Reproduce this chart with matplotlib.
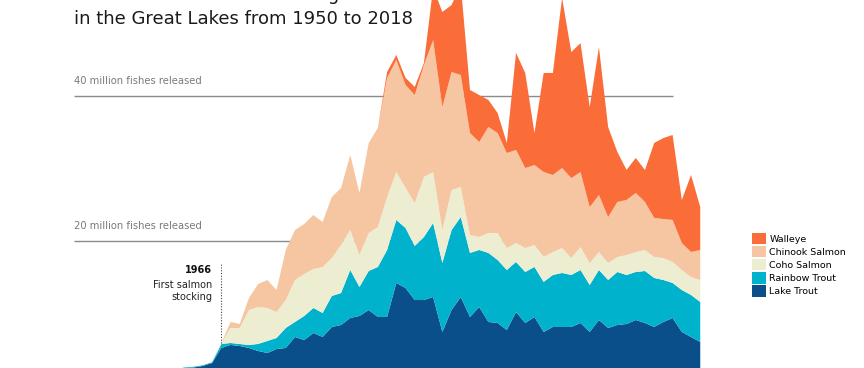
import matplotlib
matplotlib.use("Agg")
import matplotlib.pyplot as plt
from matplotlib.patches import Patch

# data (millions of fish released per year)
years = list(range(1950, 2019))

lake_trout = [0.3, 0.4, 0.5, 0.6, 0.8, 1.0, 1.2, 1.3, 1.5, 1.8,
              2.0, 2.2, 2.45, 2.55, 2.76, 3.17, 5.24, 5.66, 5.52, 5.24,
              4.83, 4.55, 5.10, 5.24, 6.76, 6.34, 7.31, 6.76, 8.14, 8.41,
              9.38, 9.66, 10.48, 9.52, 9.52, 14.21, 13.52, 11.86, 11.86, 12.28,
              7.45, 10.48, 12.28, 9.52, 10.90, 8.83, 8.69, 7.72, 10.21, 8.69,
              9.52, 7.45, 8.14, 8.14, 8.14, 8.69, 7.45, 9.10, 8.00, 8.41,
              8.55, 9.10, 8.69, 8.14, 8.83, 9.38, 7.45, 6.76, 6.07]

rainbow_trout = [0, 0, 0, 0, 0, 0, 0, 0, 0, 0,
                 0.1, 0.1, 0.1, 0.1, 0.1, 0.1, 0.55, 0.27, 0.27, 0.41,
                 0.97, 1.66, 1.52, 2.76, 2.07, 3.31, 3.45, 3.31, 4.28, 4.41,
                 6.62, 4.0, 5.38, 6.9, 9.24, 8.69, 8.28, 7.45, 8.69, 10.2,
                 9.52, 11.03, 11.03, 8.83, 7.86, 9.52, 8.69, 8.28, 6.9, 7.03,
                 6.9, 6.9, 7.17, 7.45, 7.17, 7.31, 6.48, 6.9, 6.62, 7.31,
                 6.76, 6.62, 7.17, 6.76, 5.79, 4.83, 5.79, 5.79, 5.52]

coho_salmon = [0, 0, 0, 0, 0, 0, 0, 0, 0, 0,
               0, 0, 0, 0, 0, 0, 0.14, 2.07, 2.21, 4.83,
               5.1, 4.55, 3.59, 3.86, 5.79, 5.79, 5.38, 6.34, 5.24, 6.62,
               5.52, 4.41, 5.24, 5.52, 7.31, 6.62, 5.52, 5.93, 8.28, 7.03,
               4.55, 5.52, 4.14, 2.48, 1.79, 2.76, 3.72, 3.03, 2.62, 3.31,
               3.03, 3.45, 3.17, 3.45, 2.34, 3.17, 3.03, 2.48, 2.34, 2.07,
               2.76, 2.76, 2.9, 2.9, 3.03, 2.9, 2.76, 2.48, 3.03]

chinook_salmon = [0, 0, 0, 0, 0, 0, 0, 0, 0, 0,
                  0, 0, 0, 0, 0, 0, 0, 0.83, 0.55, 1.66,
                  3.17, 3.86, 3.03, 6.9, 6.9, 6.9, 7.45, 6.21, 8.41, 7.86,
                  10.34, 8.55, 12.41, 13.66, 16.41, 15.45, 14.21, 14.9, 15.45, 18.21,
                  16.97, 16.28, 15.45, 14.07, 13.10, 14.62, 13.79, 13.10, 12.83, 11.03,
                  11.03, 11.72, 10.62, 11.03, 11.03, 10.34, 7.72, 7.86, 6.34, 7.59,
                  7.59, 8.14, 6.62, 5.38, 5.38, 5.79, 3.72, 3.45, 4.14]

walleye = [0, 0, 0, 0, 0, 0, 0, 0, 0, 0,
           0, 0, 0, 0, 0, 0, 0, 0, 0, 0,
           0, 0, 0, 0, 0, 0, 0, 0, 0, 0,
           0, 0, 0, 0, 0.83, 0.69, 0.97, 1.1, 0.28, 7.2,
           13.1, 9.24, 12.4, 5.93, 6.48, 3.72, 2.76, 1.38, 13.38, 13.1,
           4.41, 13.66, 14.07, 23.45, 17.38, 17.79, 13.79, 20.41, 12.41, 6.9,
           4.14, 4.83, 4.41, 10.34, 11.17, 11.72, 5.93, 10.62, 5.93]

species = ["Lake Trout", "Rainbow Trout", "Coho Salmon", "Chinook Salmon", "Walleye"]
colors = ["#0B4F8A", "#00B2CB", "#EDEDD2", "#F6C5A1", "#FA6C38"]

reference_lines = [20, 40]
reference_labels = ["20 million fishes released", "40 million fishes released"]


def main():
    fig = plt.figure(figsize=(8.64, 3.68), dpi=100)
    ax = fig.add_axes([0, 0, 1, 1])
    ax.set_xlim(1941.97, 2035.78)
    ax.set_ylim(2.48, 53.24)
    ax.axis("off")

    # reference lines behind the areas
    for val, label in zip(reference_lines, reference_labels):
        ax.hlines(val, 1950, 2015, color="#8a8a8a", lw=1, zorder=1)
        ax.text(1950, val + 1.66, label, fontsize=7.2, color="#7a7a7a",
                ha="left", va="baseline")

    series = [lake_trout, rainbow_trout, coho_salmon, chinook_salmon, walleye]
    ax.stackplot(years, *series, colors=colors, lw=0, zorder=2)

    # annotation for first salmon stocking
    top_1966 = sum(s[years.index(1966)] for s in series)
    ax.vlines(1966, top_1966, 16.97, color="#444444", lw=0.8,
              linestyles=(0, (1, 1.5)), zorder=3)
    ax.text(1965, 15.59, "1966", fontsize=7, fontweight="bold",
            color="#111111", ha="right", va="baseline")
    ax.text(1965, 11.86, "First salmon\nstocking", fontsize=7,
            color="#222222", ha="right", va="baseline", multialignment="right")

    fig.text(74 / 864, 1 - 24 / 368,
             "The evolution of fish stocking\nin the Great Lakes from 1950 to 2018",
             fontsize=13, color="#1a1a1a", ha="left", va="baseline",
             linespacing=1.45)

    handles = [Patch(facecolor=c, edgecolor="none") for c in colors[::-1]]
    fig.legend(handles, species[::-1], loc="upper left",
               bbox_to_anchor=(752 / 864, 1 - 233 / 368), frameon=False,
               fontsize=6.8, handlelength=1.45, handleheight=1.45,
               handletextpad=0.4, labelspacing=0.2, borderpad=0,
               borderaxespad=0)

    fig.savefig("out.png", dpi=100)


if __name__ == "__main__":
    main()
